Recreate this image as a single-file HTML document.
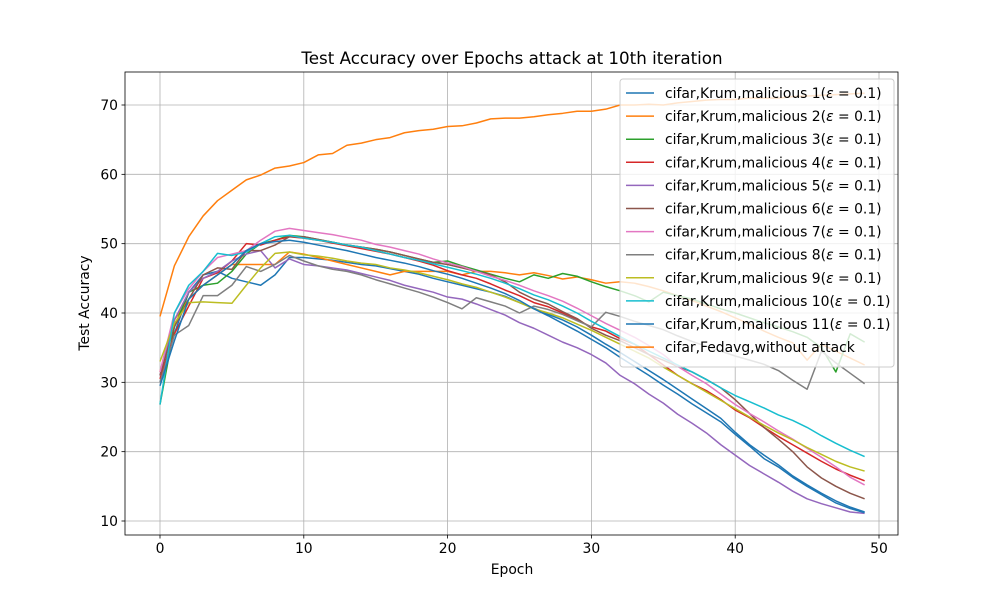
<!DOCTYPE html>
<html><head><meta charset="utf-8"><style>
body{margin:0;background:#fff}
svg text{font-family:"DejaVu Sans","Liberation Sans",sans-serif}
</style></head><body>
<svg id="chart" width="1000" height="600" xmlns="http://www.w3.org/2000/svg"></svg>
<script>
const epochs = Array.from({length:50},(_,i)=>i);
const xTicks = [0,10,20,30,40,50];
const yTicks = [10,20,30,40,50,60,70];
const seriesNames = ["cifar,Krum,malicious 1","cifar,Krum,malicious 2","cifar,Krum,malicious 3","cifar,Krum,malicious 4","cifar,Krum,malicious 5","cifar,Krum,malicious 6","cifar,Krum,malicious 7","cifar,Krum,malicious 8","cifar,Krum,malicious 9","cifar,Krum,malicious 10","cifar,Krum,malicious 11","cifar,Fedavg,without attack"];
const seriesColors = ["#1f77b4","#ff7f0e","#2ca02c","#d62728","#9467bd","#8c564b","#e377c2","#7f7f7f","#bcbd22","#17becf","#1f77b4","#ff7f0e"];
const mal1 = [30,37,43,45.5,46,45,44.5,44,45.5,48,48,47.8,47.6,47.3,47,46.8,46.4,46,45.6,45,44.5,44,43.5,43,42.4,41.5,40.7,39.8,39,38,36.8,35.5,34.3,33,31.7,30.4,29,27.6,26.2,24.8,22.8,21,19.5,18.1,16.5,15.2,14,12.9,12,11.3];
const mal2 = [31.5,39,42,44,45.5,47,47,47,47,48.8,48.5,48,47.5,47,46.5,46,45.5,46,46,46,46,45.5,46,46,45.8,45.5,45.8,45.4,44.9,45.2,44.8,44.3,44.5,44.3,43.8,43.2,42.5,41.8,41,40.2,39.3,38.4,37.4,36.5,35.7,33.2,35.5,34.5,33.5,32.5];
const mal3 = [26.8,38,43,44,44.3,46,48.5,50,50.5,51.2,51,50.6,50.2,49.8,49.5,49.2,48.8,48.3,47.8,47.3,47.5,46.8,46.2,45.6,45,44.5,45.5,45,45.7,45.3,44.5,43.8,43.2,42.5,41.6,43,42.5,42,41.3,40.6,40,39.3,38.6,38,37.3,36.5,35,31.5,37,35.8];
const mal4 = [30.5,37,41,45,45.8,47.5,50,49.8,50.5,51,50.8,50.5,50.1,49.7,49.3,48.9,48.5,48,47.5,46.9,46.1,45.5,45,44.2,43.3,42.5,41.5,40.9,40,39,38,37.4,36.3,35.5,34,32.5,31,29.8,28.8,27.5,26,24.9,23.5,22.2,21,19.8,18.6,17.5,16.6,15.8];
const mal5 = [31,39,43,45,46,47.5,48.5,49,46.5,47.8,47,46.8,46.5,46.2,45.7,45.2,44.7,44,43.5,43,42.3,42,41.3,40.5,39.7,38.6,37.8,36.8,35.8,35,34,32.8,31,29.8,28.3,27,25.4,24.1,22.7,21,19.5,18,16.8,15.6,14.3,13.2,12.5,11.9,11.3,11.1];
const mal6 = [31,38,42,45.5,46.5,46.3,49,49,49.8,51,51,50.6,50.2,49.8,49.5,49.2,48.8,48.3,47.8,47.3,47,46.5,46,45.5,44.5,43,42,41.3,40.2,39.2,37.8,36.8,36,35,34,33.2,32.3,31.5,30.4,29.2,27.5,25.5,23.5,21.8,20,17.8,16.2,15,14,13.2];
const mal7 = [31.5,40,43.5,46,48,48.5,49,50.5,51.8,52.2,51.9,51.6,51.3,50.9,50.5,49.9,49.5,49,48.5,47.8,47.2,46.7,46,45.3,44.7,44,43.2,42.5,41.7,40.7,39.6,38.5,37.5,36.5,35.3,34,32.3,31,29.8,28.3,26.8,25.5,24.3,23,21.8,20.5,19.2,17.8,16.3,15.2];
const mal8 = [30,36.8,38.2,42.5,42.5,44,46.7,46,47,48.3,47.5,46.8,46.3,46,45.5,44.8,44.2,43.6,43,42.3,41.5,40.6,42.2,41.6,41,40,41,40.5,39.8,38.9,38,40.1,39.5,38.8,38.2,37.6,36.7,35.9,35.2,34.5,33.8,33.2,32.6,31.7,30.3,29,34.5,32.8,31.3,29.8];
const mal9 = [33,38.5,41.5,41.6,41.5,41.4,44,46.5,48.6,48.8,48.4,48.2,47.9,47.5,47.2,47,46.5,46.2,45.8,45.3,44.8,44.2,43.7,43,42.3,41.5,40.6,40,39.3,38.4,37.5,36.5,35.5,34.5,33.5,32.2,31,29.8,28.6,27.4,26.2,25,23.8,22.7,21.7,20.6,19.6,18.6,17.8,17.2];
const mal10 = [26.8,40,44,46,48.6,48.3,48.8,50,51,51.2,50.8,50.5,50.2,49.8,49.5,49,48.5,48,47.6,47.1,46.6,46.1,45.6,45,44.3,43.5,42.6,41.9,41,40,38.8,37.7,36.6,35.5,34.5,33.5,32.5,31.5,30.4,29.2,28.1,27.2,26.3,25.3,24.5,23.5,22.3,21.2,20.2,19.3];
const mal11 = [29.5,36,42,44,45.5,47,49,50,50.3,50.5,50.2,49.8,49.4,49,48.5,48,47.6,47.2,46.7,46.1,45.6,45,44.3,43.6,42.8,41.8,40.6,39.6,38.5,37.4,36.2,35,33.6,32.3,31,29.6,28.3,26.9,25.6,24.3,22.5,20.8,19,17.8,16.3,15,13.8,12.6,11.8,11.2];
const fedavg = [39.5,46.8,51,54,56.2,57.7,59.2,59.9,60.9,61.2,61.7,62.8,63,64.2,64.5,65,65.3,66,66.3,66.5,66.9,67,67.4,68,68.1,68.1,68.3,68.6,68.8,69.1,69.1,69.4,70,70,70.1,70,70.3,70.5,70.7,70.8,70.8,71,71,71,71.2,71.3,71.4,71.5,71.6,71.7];
const allSeries = [mal1,mal2,mal3,mal4,mal5,mal6,mal7,mal8,mal9,mal10,mal11,fedavg];

const L=125,R=898,T=72,B=535;
const xs = v => 160 + v*(879-160)/50;
const ys = v => 521 - (v-10)*(521-105)/60;
const NS="http://www.w3.org/2000/svg";
const svg=document.getElementById('chart');
function mk(tag,attrs,parent){const e=document.createElementNS(NS,tag);for(const k in attrs)e.setAttribute(k,attrs[k]);(parent||svg).appendChild(e);return e;}

const grid=mk('g',{});


xTicks.forEach(t=>{
  const g=mk('line',{x1:xs(t),x2:xs(t),y1:T,y2:B,stroke:'#b0b0b0','stroke-width':0.8},grid);
  
  
  const tk=mk('line',{x1:xs(t),x2:xs(t),y1:B,y2:B+3.5,stroke:'#000','stroke-width':0.8});
  
  
  const lb=mk('text',{x:xs(t),y:B+18,'text-anchor':'middle','font-size':'13.9px',fill:'#000'});
  lb.textContent=t;
  
  
});
yTicks.forEach(t=>{
  const g=mk('line',{x1:L,x2:R,y1:ys(t),y2:ys(t),stroke:'#b0b0b0','stroke-width':0.8},grid);
  
  
  const tk=mk('line',{x1:L-3.5,x2:L,y1:ys(t),y2:ys(t),stroke:'#000','stroke-width':0.8});
  
  
  const lb=mk('text',{x:L-7,y:ys(t)+5,'text-anchor':'end','font-size':'13.9px',fill:'#000'});
  lb.textContent=t;
  
  
});
allSeries.forEach((s,i)=>{
  const p=mk('polyline',{points:s.map((v,j)=>xs(epochs[j])+','+ys(v)).join(' '),fill:'none',stroke:seriesColors[i],'stroke-width':1.5,'stroke-linejoin':'round'});
  
  
});
const frame=mk('rect',{x:L,y:T,width:R-L,height:B-T,fill:'none',stroke:'#000','stroke-width':0.8});



const title=mk('text',{x:512,y:64,'text-anchor':'middle','font-size':'16.7px'});
title.textContent='Test Accuracy over Epochs attack at 10th iteration';


const xl=mk('text',{x:512,y:574,'text-anchor':'middle','font-size':'13.9px'});
xl.textContent='Epoch';


const yl=mk('text',{x:0,y:0,'text-anchor':'middle','font-size':'13.9px',transform:'translate(89,303) rotate(-90)'});
yl.textContent='Test Accuracy';



const leg=mk('g',{});


mk('rect',{x:620,y:79,width:274,height:288,rx:3,fill:'#fff','fill-opacity':0.8,stroke:'#ccc','stroke-width':1},leg);
seriesNames.forEach((n,i)=>{
  const y=93+i*23.1;
  const ln=mk('line',{x1:626,x2:654,y1:y,y2:y,stroke:seriesColors[i],'stroke-width':1.5},leg);
  
  
  const tx=mk('text',{x:665,y:y+5,'font-size':'13.9px'},leg);
  
  
  if(i<11){
    tx.appendChild(document.createTextNode(n+'('));
    const e=mk('tspan',{'font-style':'italic'},tx);e.textContent='ε';
    tx.appendChild(document.createTextNode(' = 0.1)'));
  } else tx.textContent=n;
});
</script>
</body></html>
